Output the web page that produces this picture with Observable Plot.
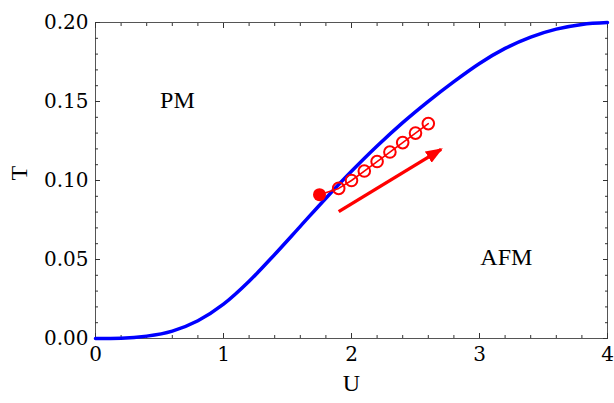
<!DOCTYPE html>
<html><head><meta charset="utf-8">
<script src="https://cdn.jsdelivr.net/npm/d3@7"></script>
<script src="https://cdn.jsdelivr.net/npm/@observablehq/plot@0.6"></script>
<style>body{margin:0;background:#fff}</style>
</head><body><div id="chart"></div>
<script>
// Phase boundary T(U)
const curveU = [0, 0.2, 0.4, 0.6, 0.8, 1.0, 1.2, 1.4, 1.6, 1.8, 2.0, 2.2, 2.4, 2.6, 2.8, 3.0, 3.2, 3.4, 3.6, 3.8, 4.0];
const curveT = [0, 0.0002, 0.0015, 0.0047, 0.0112, 0.0217, 0.0362, 0.0532, 0.071, 0.0888, 0.1058, 0.1218, 0.1366, 0.1501, 0.1626, 0.1741, 0.1836, 0.1908, 0.1958, 0.1988, 0.200];
// filled starting point
const startU = [1.75];
const startT = [0.091];
// open-circle path
const pathU = [1.9, 2.0, 2.1, 2.2, 2.3, 2.4, 2.5, 2.6];
const pathT = [0.095, 0.100, 0.106, 0.112, 0.118, 0.124, 0.130, 0.136];
// arrow
const arrowU = [1.90, 2.70];
const arrowT = [0.0803, 0.1197];
// region labels
const regionNames = ["PM", "AFM"];
const regionU = [0.64, 3.21];
const regionT = [0.151, 0.0516];
// ticks
const xMajor = [0, 1, 2, 3, 4];
const xMinor = [0.2, 0.4, 0.6, 0.8, 1.2, 1.4, 1.6, 1.8, 2.2, 2.4, 2.6, 2.8, 3.2, 3.4, 3.6, 3.8];
const yMajor = [0, 0.05, 0.10, 0.15, 0.20];
const yMinor = [0.01, 0.02, 0.03, 0.04, 0.06, 0.07, 0.08, 0.09, 0.11, 0.12, 0.13, 0.14, 0.16, 0.17, 0.18, 0.19];
const xLabel = "U";
const yLabel = "T";

const curve = curveU.map((u, i) => ({u, t: curveT[i]}));
const path = [{u: startU[0], t: startT[0]}, ...pathU.map((u, i) => ({u, t: pathT[i]}))];
const circles = pathU.map((u, i) => ({u, t: pathT[i]}));
const start = startU.map((u, i) => ({u, t: startT[i]}));
const arrow = [{x1: arrowU[0], y1: arrowT[0], x2: arrowU[1], y2: arrowT[1]}];
const regions = regionNames.map((n, i) => ({n, u: regionU[i], t: regionT[i]}));

const font = "Liberation Serif";
const tickFont = "DejaVu Serif";
const frameColor = "#555";
const tickOpts = {stroke: "#333", tickFormat: () => "", label: null};
const MJ = 5, MN = 3;

const chart = Plot.plot({
  width: 614, height: 403,
  marginLeft: 95, marginRight: 7, marginTop: 22, marginBottom: 65,
  style: {fontFamily: font, background: "#fff", color: "#000"},
  x: {domain: [0, 4]},
  y: {domain: [0, 0.2]},
  marks: [
    Plot.frame({stroke: frameColor}),
    // inward ticks, all four sides (drawn outward then shifted inside)
    Plot.axisX(xMajor, {anchor: "bottom", tickSize: MJ, dy: -MJ, ...tickOpts}),
    Plot.axisX(xMinor, {anchor: "bottom", tickSize: MN, dy: -MN, ...tickOpts}),
    Plot.axisX(xMajor, {anchor: "top", tickSize: MJ, dy: MJ, ...tickOpts}),
    Plot.axisX(xMinor, {anchor: "top", tickSize: MN, dy: MN, ...tickOpts}),
    Plot.axisY(yMajor, {anchor: "left", tickSize: MJ, dx: MJ, ...tickOpts}),
    Plot.axisY(yMinor, {anchor: "left", tickSize: MN, dx: MN, ...tickOpts}),
    Plot.axisY(yMajor, {anchor: "right", tickSize: MJ, dx: -MJ, ...tickOpts}),
    Plot.axisY(yMinor, {anchor: "right", tickSize: MN, dx: -MN, ...tickOpts}),
    // tick labels
    Plot.text(xMajor, {x: d => d, frameAnchor: "bottom", lineAnchor: "top", dy: 8, text: d3.format("d"), fontSize: 20, fontFamily: tickFont, fill: "#000"}),
    Plot.text(yMajor, {y: d => d, frameAnchor: "left", textAnchor: "end", dx: -7, text: d3.format(".2f"), fontSize: 20, fontFamily: tickFont, fill: "#000"}),
    // axis titles
    Plot.text([xLabel], {frameAnchor: "bottom", dy: 52, text: d => d, fontSize: 24, fontFamily: font, fill: "#000"}),
    Plot.text([yLabel], {frameAnchor: "left", dx: -76, rotate: -90, text: d => d, fontSize: 24, fontFamily: font, fill: "#000"}),
    // curve
    Plot.line(curve, {x: "u", y: "t", stroke: "#0000ff", strokeWidth: 3.5, curve: "monotone-x"}),
    // path of points
    Plot.line(path, {x: "u", y: "t", stroke: "#ff0000", strokeWidth: 1.6}),
    Plot.dot(circles, {x: "u", y: "t", r: 5.8, stroke: "#ff0000", strokeWidth: 2, fill: "none"}),
    Plot.dot(start, {x: "u", y: "t", r: 6.5, fill: "#ff0000", stroke: "none"}),
    // arrow
    Plot.link(arrow, {x1: "x1", y1: "y1", x2: "x2", y2: "y2", stroke: "#ff0000", strokeWidth: 3.5, markerEnd: "arrow"}),
    // region labels
    Plot.text(regions, {x: "u", y: "t", text: "n", fontSize: 24, fontFamily: font, fill: "#000"})
  ]
});

// turn Plot's open arrow marker into a filled head
d3.select(chart).selectAll("marker")
  .attr("viewBox", "0 0 17 13")
  .attr("markerUnits", "userSpaceOnUse")
  .attr("markerWidth", 17).attr("markerHeight", 13)
  .attr("refX", 15).attr("refY", 6.5)
  .attr("orient", "auto")
  .attr("fill", "#ff0000").attr("stroke", "none")
  .selectAll("path").attr("d", "M0,0L17,6.5L0,13Z");
document.getElementById("chart").appendChild(chart);
</script>
</body></html>
